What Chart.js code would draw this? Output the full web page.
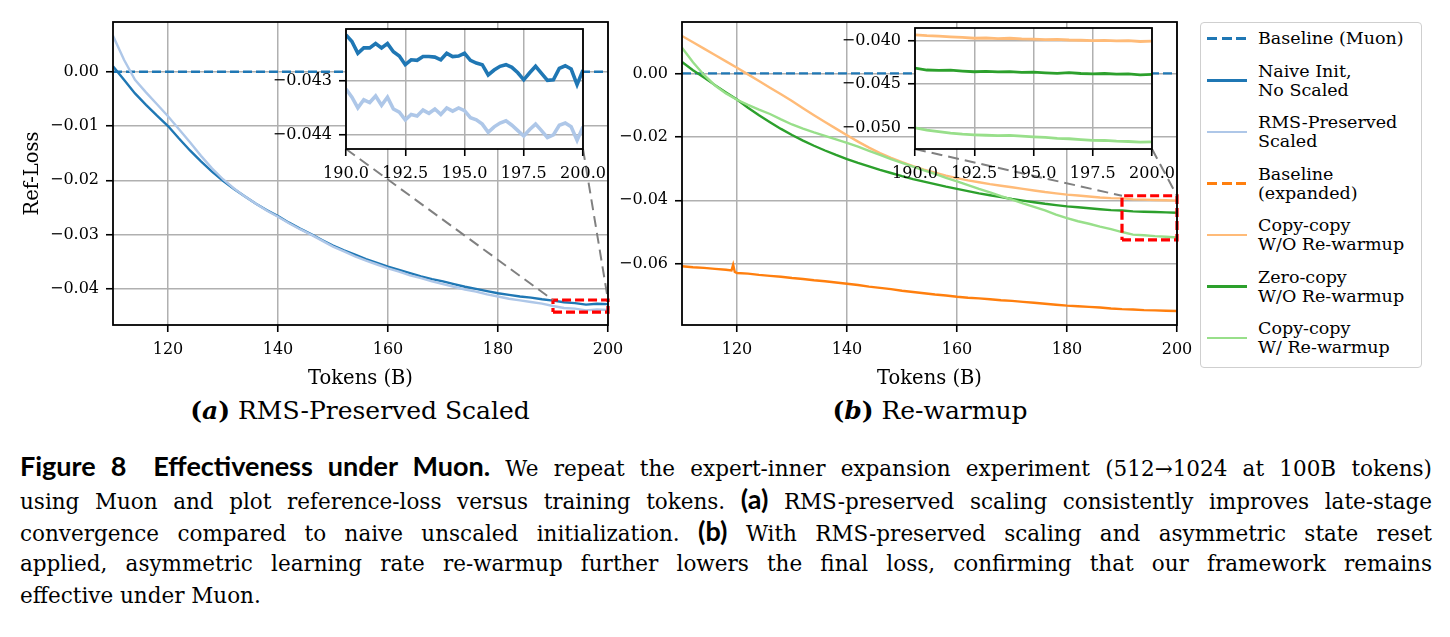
<!DOCTYPE html>
<html lang="en">
<head>
<meta charset="utf-8">
<title>Effectiveness under Muon</title>
<script src="https://cdn.jsdelivr.net/npm/chart.js@4/dist/chart.umd.min.js"></script>
<style>
  body { margin: 0; width: 1450px; height: 637px; background: #fff; position: relative; overflow: hidden;
         font-family: "DejaVu Serif", serif; color: #000; }
  canvas { position: absolute; }
  .sub { position: absolute; top: 397px; font-size: 25px; line-height: 28px; transform: translateX(-50%); white-space: nowrap; }
  #legend { position: absolute; left: 1200px; top: 22px; width: 222px; height: 346px; box-sizing: border-box;
            border: 1.5px solid #cfcfcf; border-radius: 4px; padding: 6px 0 0 6px; }
  .entry { display: flex; align-items: center; margin-bottom: 13.5px; }
  .swatch { width: 40px; height: 2.6px; margin-right: 11px; flex: none; }
  .lbl { font-size: 17.5px; line-height: 19px; white-space: nowrap; }
  #caption { position: absolute; left: 20px; top: 450px; width: 1412px; font-size: 21.5px; }
  .cl { height: 32.5px; line-height: 32.5px; text-align: justify; text-align-last: justify; }
  .cl.last { text-align-last: left; }
  .sf { font-family: Lato, "Noto Sans", sans-serif; font-weight: 700; font-size: 27px; }
</style>
</head>
<body>
<canvas id="mainA"></canvas>
<canvas id="mainB"></canvas>
<canvas id="insetA"></canvas>
<canvas id="insetB"></canvas>

<div class="sub" style="left:360px"><b>(<i>a</i>)</b> RMS-Preserved Scaled</div>
<div class="sub" style="left:930px"><b>(<i>b</i>)</b> Re-warmup</div>

<div id="legend"></div>

<div id="caption">
  <div class="cl"><span class="sf">Figure 8<span style="display:inline-block;width:12px"></span> Effectiveness under Muon.</span> We repeat the expert-inner expansion experiment (512&rarr;1024 at 100B tokens)</div>
  <div class="cl">using Muon and plot reference-loss versus training tokens. <span class="sf">(a)</span> RMS-preserved scaling consistently improves late-stage</div>
  <div class="cl">convergence compared to naive unscaled initialization. <span class="sf">(b)</span> With RMS-preserved scaling and asymmetric state reset</div>
  <div class="cl">applied, asymmetric learning rate re-warmup further lowers the final loss, confirming that our framework remains</div>
  <div class="cl last">effective under Muon.</div>
</div>

<script>
"use strict"

// ---- data ----

const tokens = [110, 112, 114, 116, 118, 120, 122, 124, 126, 128, 130, 132, 134, 136, 138, 140,
  142, 144, 146, 148, 150, 152, 154, 156, 158, 160, 162, 164, 166, 168, 170, 172, 174, 176, 178, 180,
  182, 184, 186, 188, 190, 192, 194, 196, 198, 200];

const baselineTokens = [110, 200];
const baselineMuon = [0, 0];

// (a)
const naiveInit = [0.0010, -0.0015, -0.0040, -0.0061, -0.0081, -0.0100, -0.0123, -0.0145, -0.0165, -0.0184,
  -0.0201, -0.0216, -0.0230, -0.0243, -0.0255, -0.0266, -0.0278, -0.0289, -0.0299, -0.0310,
  -0.0320, -0.0329, -0.0337, -0.0345, -0.0352, -0.0359, -0.0365, -0.0371, -0.0377, -0.0382,
  -0.0386, -0.0391, -0.0396, -0.0400, -0.0404, -0.0408, -0.0411, -0.0414, -0.0416, -0.0419,
  -0.04215, -0.04246, -0.04261, -0.04289, -0.04273, -0.04280];
const rmsScaled = [0.0066, 0.0022, -0.0015, -0.0038, -0.0060, -0.0082, -0.0106, -0.0130, -0.0155, -0.0178,
  -0.0198, -0.0215, -0.0230, -0.0243, -0.0256, -0.0267, -0.0279, -0.0290, -0.0300, -0.0311,
  -0.0322, -0.0331, -0.0340, -0.0348, -0.0355, -0.0362, -0.0368, -0.0375, -0.0380, -0.0386,
  -0.0391, -0.0396, -0.0401, -0.0405, -0.0410, -0.0414, -0.0418, -0.0421, -0.0424, -0.0427,
  -0.04315, -0.04352, -0.04362, -0.04395, -0.04380, -0.04385];

// (b)
const baseExpTokens = [110, 112, 114, 116, 118, 119, 119.3, 119.6, 120, 122, 124, 126, 128, 130, 132, 134,
  136, 138, 140, 142, 144, 146, 148, 150, 152, 154, 156, 158, 160, 162, 164, 166, 168, 170, 172, 174,
  176, 178, 180, 182, 184, 186, 188, 190, 192, 194, 196, 198, 200];
const baseExpanded = [-0.0608, -0.0611, -0.0613, -0.0616, -0.0619, -0.0621, -0.0603, -0.0626, -0.0629,
  -0.0631, -0.0635, -0.0638, -0.0641, -0.0645, -0.0648, -0.0652, -0.0655, -0.0659, -0.0663,
  -0.0667, -0.0672, -0.0676, -0.0680, -0.0685, -0.0689, -0.0693, -0.0697, -0.0700, -0.0704,
  -0.0707, -0.0709, -0.0712, -0.0715, -0.0717, -0.0720, -0.0723, -0.0726, -0.0729, -0.0732,
  -0.0734, -0.0736, -0.0738, -0.0741, -0.0743, -0.0744, -0.0746, -0.0747, -0.0748, -0.0749];
const copyNoWarm = [0.0118, 0.0098, 0.0078, 0.0058, 0.0038, 0.0018, -0.0003, -0.0024, -0.0045, -0.0066,
  -0.0087, -0.0110, -0.0132, -0.0153, -0.0174, -0.0195, -0.0215, -0.0234, -0.0251, -0.0266,
  -0.0280, -0.0292, -0.0303, -0.0313, -0.0322, -0.0330, -0.0337, -0.0343, -0.0349, -0.0354,
  -0.0359, -0.0364, -0.0369, -0.0374, -0.0378, -0.0382, -0.0385, -0.0388, -0.0391, -0.0393,
  -0.0394, -0.0397, -0.0398, -0.0399, -0.0400, -0.0401];
const zeroNoWarm = [0.0036, 0.0010, -0.0013, -0.0037, -0.0060, -0.0082, -0.0108, -0.0132, -0.0154, -0.0175,
  -0.0194, -0.0212, -0.0228, -0.0243, -0.0257, -0.0270, -0.0282, -0.0293, -0.0304, -0.0314,
  -0.0324, -0.0333, -0.0341, -0.0349, -0.0357, -0.0364, -0.0371, -0.0378, -0.0384, -0.0390,
  -0.0396, -0.0401, -0.0406, -0.0411, -0.0415, -0.0419, -0.0422, -0.0425, -0.0428, -0.0431,
  -0.0432, -0.0435, -0.0436, -0.0437, -0.0438, -0.0439];
const copyWarm = [0.0081, 0.0035, -0.0005, -0.0038, -0.0063, -0.0083, -0.0099, -0.0114, -0.0128, -0.0145,
  -0.0161, -0.0174, -0.0186, -0.0197, -0.0208, -0.0219, -0.0231, -0.0244, -0.0257, -0.0270,
  -0.0282, -0.0294, -0.0306, -0.0317, -0.0329, -0.0340, -0.0352, -0.0364, -0.0375, -0.0387,
  -0.0398, -0.0410, -0.0421, -0.0432, -0.0445, -0.0456, -0.0466, -0.0474, -0.0483, -0.0491,
  -0.0500, -0.0508, -0.0510, -0.0513, -0.0515, -0.0517];

// zoomed windows
const zoomTokensA = [190, 190.25, 190.5, 190.75, 191, 191.25, 191.5, 191.75, 192, 192.25,
  192.5, 192.75, 193, 193.25, 193.5, 193.75, 194, 194.25, 194.5, 194.75,
  195, 195.25, 195.5, 195.75, 196, 196.25, 196.5, 196.75, 197, 197.25,
  197.5, 197.75, 198, 198.25, 198.5, 198.75, 199, 199.25, 199.5, 199.75, 200];
const zoomNaive = [-0.04215, -0.04227, -0.04249, -0.04239, -0.04239, -0.04231, -0.04239, -0.04231, -0.04246, -0.04254,
  -0.04270, -0.04261, -0.04262, -0.04255, -0.04255, -0.04256, -0.04261, -0.04249, -0.04255, -0.04254,
  -0.04249, -0.04262, -0.04267, -0.04270, -0.04289, -0.04280, -0.04273, -0.04270, -0.04275, -0.04285,
  -0.04298, -0.04285, -0.04273, -0.04286, -0.04299, -0.04298, -0.04277, -0.04272, -0.04278, -0.04307,
  -0.04280];
const zoomRms = [-0.04315, -0.04330, -0.04350, -0.04335, -0.04340, -0.04328, -0.04345, -0.04330, -0.04352, -0.04358,
  -0.04372, -0.04362, -0.04365, -0.04354, -0.04360, -0.04352, -0.04362, -0.04350, -0.04356, -0.04350,
  -0.04355, -0.04368, -0.04372, -0.04380, -0.04395, -0.04385, -0.04378, -0.04374, -0.04382, -0.04392,
  -0.04402, -0.04390, -0.04380, -0.04392, -0.04405, -0.04400, -0.04382, -0.04378, -0.04385, -0.04410,
  -0.04385];

const zoomTokensB = [190, 190.5, 191, 191.5, 192, 192.5, 193, 193.5, 194, 194.5, 195,
  195.5, 196, 196.5, 197, 197.5, 198, 198.5, 199, 199.5, 200];
const zoomCopyNoWarm = [-0.03935, -0.03945, -0.03950, -0.03958, -0.03965, -0.03975, -0.03972, -0.03978, -0.03975, -0.03982,
  -0.03985, -0.03990, -0.03988, -0.03995, -0.03998, -0.04002, -0.04000, -0.04005, -0.04003, -0.04012, -0.04008];
const zoomZeroNoWarm = [-0.04318, -0.04340, -0.04345, -0.04342, -0.04352, -0.04360, -0.04355, -0.04362, -0.04358, -0.04368,
  -0.04365, -0.04372, -0.04378, -0.04370, -0.04380, -0.04385, -0.04380, -0.04388, -0.04385, -0.04395, -0.04390];
const zoomCopyWarm = [-0.05005, -0.05030, -0.05048, -0.05065, -0.05078, -0.05085, -0.05090, -0.05095, -0.05092, -0.05100,
  -0.05108, -0.05115, -0.05125, -0.05130, -0.05140, -0.05148, -0.05150, -0.05158, -0.05162, -0.05170, -0.05165];

// axes
const xRange = [110, 200];
const yRangeA = [-0.04664, 0.00915];
const yRangeB = [-0.0793, 0.0162];
const zoomX = [190, 200];
const zoomYA = [-0.04426, -0.04204];
const zoomYB = [-0.05248, -0.03857];

const xTicks = [120, 140, 160, 180, 200];
const yTicksA = [0, -0.01, -0.02, -0.03, -0.04];
const yTicksB = [0, -0.02, -0.04, -0.06];
const zoomXTicks = [190, 192.5, 195, 197.5, 200];
const zoomYTicksA = [-0.043, -0.044];
const zoomYTicksB = [-0.040, -0.045, -0.050];

const legendLabels = [["Baseline (Muon)"], ["Naive Init,", "No Scaled"], ["RMS-Preserved", "Scaled"],
  ["Baseline", "(expanded)"], ["Copy-copy", "W/O Re-warmup"], ["Zero-copy", "W/O Re-warmup"], ["Copy-copy", "W/ Re-warmup"]];

// ---- styles ----
const C = {
  blue: "#1f77b4", lightBlue: "#aec7e8", orange: "#ff7f0e",
  lightOrange: "#ffbb78", green: "#2ca02c", lightGreen: "#98df8a"
};
const legendColors = [C.blue, C.blue, C.lightBlue, C.orange, C.lightOrange, C.green, C.lightGreen];
const legendDashed = [true, false, false, true, false, false, false];

Chart.defaults.font.family = '"DejaVu Serif", serif';
Chart.defaults.color = "#000";

const fmt = digits => v => Number(v).toFixed(digits).replace("-", "\u2212");

// white plot background (for insets) and the black box around each axes
const framePlugin = {
  id: "frame",
  beforeDraw(chart, args, opts) {
    if (!opts.fill) return;
    const a = chart.chartArea, ctx = chart.ctx;
    ctx.save();
    ctx.fillStyle = "#fff";
    ctx.fillRect(a.left, a.top, a.right - a.left, a.bottom - a.top);
    ctx.restore();
  },
  afterDraw(chart) {
    const a = chart.chartArea, ctx = chart.ctx;
    ctx.save();
    ctx.strokeStyle = "#000";
    ctx.lineWidth = 1.8;
    ctx.strokeRect(a.left, a.top, a.right - a.left, a.bottom - a.top);
    ctx.restore();
  }
};

// gray dashed lines from the inset corners to the zoom box
const insets = {};
const connectorPlugin = {
  id: "connectors",
  afterDatasetsDraw(chart) {
    const inset = insets[chart.canvas.id];
    if (!inset) return;
    const dx = inset.chart.canvas.offsetLeft - chart.canvas.offsetLeft;
    const dy = inset.chart.canvas.offsetTop - chart.canvas.offsetTop;
    const ix = inset.chart.scales.x, iy = inset.chart.scales.y;
    const ctx = chart.ctx;
    ctx.save();
    ctx.strokeStyle = "#808080";
    ctx.lineWidth = 2;
    ctx.setLineDash([11, 6]);
    zoomX.forEach(xv => {
      ctx.beginPath();
      ctx.moveTo(ix.getPixelForValue(xv) + dx, iy.getPixelForValue(iy.min) + dy);
      ctx.lineTo(chart.scales.x.getPixelForValue(xv), chart.scales.y.getPixelForValue(inset.yRange[1]));
      ctx.stroke();
    });
    ctx.restore();
  }
};
Chart.register(framePlugin, connectorPlugin);

function series(xs, ys, color, width, dash) {
  return {
    data: xs.map((x, i) => ({ x: x, y: ys[i] })),
    borderColor: color, backgroundColor: color, borderWidth: width, borderDash: dash || [],
    showLine: true, pointRadius: 0, tension: 0, fill: false
  };
}

function zoomBox(yr) {
  const d = series([zoomX[0], zoomX[1], zoomX[1], zoomX[0], zoomX[0]], [yr[0], yr[0], yr[1], yr[1], yr[0]], "#ff0000", 3.2, [9, 4]);
  d.clip = 6;
  return d;
}

function axis(dir, range, ticks, digits, size, title) {
  const ax = {
    type: "linear", min: range[0], max: range[1],
    afterBuildTicks: s => { s.ticks = ticks.map(v => ({ value: v })); },
    afterFit: s => {
      if (dir === "x") { s.height = size; s.paddingLeft = 0; s.paddingRight = 0; }
      else { s.width = size; s.paddingTop = 0; s.paddingBottom = 0; }
    },
    ticks: { autoSkip: false, maxRotation: 0, minRotation: 0, padding: dir === "x" ? 8 : 7,
             font: { size: 16 }, color: "#000", callback: fmt(digits) },
    grid: { color: "#b0b0b0", lineWidth: 1.5, tickColor: "#000", tickLength: 7, tickWidth: 1.6 },
    border: { display: false },
    title: { display: false }
  };
  if (title) {
    ax.title = { display: true, text: title, color: "#000", font: { size: 19.5 },
                 padding: dir === "x" ? { top: 0, bottom: 4 } : { top: 21, bottom: 0 } };
  }
  return ax;
}

function makeChart(id, pos, pad, scales, datasets, fill) {
  const canvas = document.getElementById(id);
  canvas.width = pos[2];
  canvas.height = pos[3];
  canvas.style.left = pos[0] + "px";
  canvas.style.top = pos[1] + "px";
  return new Chart(canvas.getContext("2d"), {
    type: "scatter",
    data: { datasets: datasets.map((d, i) => Object.assign(d, { order: -i })) },
    options: {
      responsive: false, animation: false, devicePixelRatio: 1, events: [],
      layout: { padding: { top: pad[0], right: pad[1], bottom: 0, left: 0 } },
      scales: scales,
      plugins: { legend: { display: false }, tooltip: { enabled: false }, frame: { fill: fill } }
    }
  });
}

// insets first, so the main charts can reach their corners
insets.mainA = {
  yRange: zoomYA,
  chart: makeChart("insetA", [266, 19, 347, 170], [10, 30], {
    x: axis("x", zoomX, zoomXTicks, 1, 40),
    y: axis("y", zoomYA, zoomYTicksA, 3, 80)
  }, [
    series(zoomTokensA, zoomNaive, C.blue, 3.6),
    series(zoomTokensA, zoomRms, C.lightBlue, 3.6)
  ], true)
};

insets.mainB = {
  yRange: zoomYB,
  chart: makeChart("insetB", [835, 18, 347, 171], [10, 30], {
    x: axis("x", zoomX, zoomXTicks, 1, 40),
    y: axis("y", zoomYB, zoomYTicksB, 3, 80)
  }, [
    series(zoomTokensB, zoomCopyNoWarm, C.lightOrange, 2.8),
    series(zoomTokensB, zoomZeroNoWarm, C.green, 2.8),
    series(zoomTokensB, zoomCopyWarm, C.lightGreen, 2.8)
  ], true)
};

makeChart("mainA", [0, 0, 640, 395], [22, 32], {
  x: axis("x", xRange, xTicks, 0, 70, "Tokens (B)"),
  y: axis("y", yRangeA, yTicksA, 2, 113, "Ref-Loss")
}, [
  series(baselineTokens, baselineMuon, C.blue, 2.4, [9, 4]),
  series(tokens, naiveInit, C.blue, 2.4),
  series(tokens, rmsScaled, C.lightBlue, 2.4),
  zoomBox(zoomYA)
], false);

makeChart("mainB", [600, 0, 600, 395], [22, 23], {
  x: axis("x", xRange, xTicks, 0, 70, "Tokens (B)"),
  y: axis("y", yRangeB, yTicksB, 2, 82)
}, [
  series(baselineTokens, baselineMuon, C.blue, 2.4, [9, 4]),
  series(baseExpTokens, baseExpanded, C.orange, 2.4),
  series(tokens, copyNoWarm, C.lightOrange, 2.4),
  series(tokens, zeroNoWarm, C.green, 2.4),
  series(tokens, copyWarm, C.lightGreen, 2.4),
  zoomBox(zoomYB)
], false);

// legend
const legendEl = document.getElementById("legend");
legendLabels.forEach((lines, i) => {
  const row = document.createElement("div");
  row.className = "entry";
  const sw = document.createElement("div");
  sw.className = "swatch";
  sw.style.background = legendDashed[i]
    ? "repeating-linear-gradient(90deg, " + legendColors[i] + " 0 10px, transparent 10px 14.5px)"
    : legendColors[i];
  const txt = document.createElement("div");
  txt.className = "lbl";
  txt.innerHTML = lines.join("<br>");
  row.appendChild(sw);
  row.appendChild(txt);
  legendEl.appendChild(row);
});
</script>
</body>
</html>
